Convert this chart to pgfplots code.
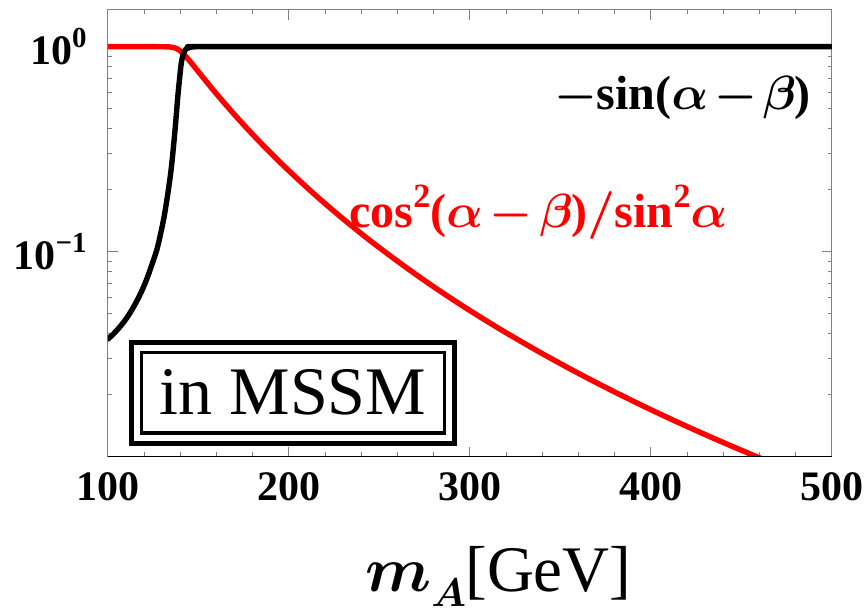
\documentclass[border=0pt]{standalone}
\usepackage{fontspec}
\setmainfont{Liberation Serif}
\usepackage{pgfplots}
\pgfplotsset{compat=1.18}
\definecolor{framegray}{rgb}{0.5,0.5,0.5}
\font\mibA=cmmib10 at 24pt
\font\bsyA=cmbsy10 at 24pt
\font\mibM=cmmib10 at 32pt
\font\mibS=cmmib10 at 20pt
\newcommand\balpha{{\mibA\char11}}
\newcommand\bbeta{{\mibA\char12}}
\newcommand\bminus{{\bsyA\char0}}
\newcommand\bslash{{\mibA\char61}}
\newcommand\sqr{\raisebox{0.42em}{\fontsize{17}{17}\selectfont\bfseries 2}}
\begin{document}
\begin{tikzpicture}
\begin{axis}[
  at={(0,0)}, anchor=south west,
  scale only axis, width=362pt, height=223.35pt,
  xmin=100, xmax=500, ymode=log, ymin=0.01, ymax=1.51,
  axis line style={framegray, line width=0.5pt},
  tick style={framegray, line width=0.5pt},
  tick align=inside, tick pos=both, ticklabel pos=left,
  major tick length=5pt, minor tick length=2.2pt,
  xtick={100,200,300,400,500}, minor x tick num=4,
  ytick={0.1,1},
  minor ytick={0.02,0.03,0.04,0.05,0.06,0.07,0.08,0.09,0.2,0.3,0.4,0.5,0.6,0.7,0.8,0.9},
  yticklabels={{\textbf{10}\raisebox{0.42em}{\fontsize{14.5}{15}\selectfont\textbf{−1}}},{\textbf{10}\raisebox{0.42em}{\fontsize{14.5}{15}\selectfont\textbf{0}}}},
  /pgf/number format/assume math mode=true,
  xticklabel style={font=\fontsize{21}{24}\selectfont\bfseries, inner sep=0pt, yshift=-7.5pt, text=black},
  yticklabel style={font=\fontsize{21}{24}\selectfont\bfseries, inner sep=0pt, xshift=-10.5pt, anchor=east, text=black},
  every axis plot/.append style={line join=round, line cap=round},
]
\addplot[red, line width=2.7pt, smooth, tension=0.5] coordinates {
(100,1.0) (115,1.0) (125,1.0) (130,0.999) (134,0.997) (136,0.992) (138,0.978)
(140,0.952) (142.5,0.905) (145,0.855) (150,0.754) (155,0.665) (160,0.5876)
(170,0.4648) (180,0.3724) (190,0.3022) (200,0.2478) (215,0.1873) (230,0.1443)
(245,0.1129) (260,0.0898) (275,0.0722) (290,0.0588) (305,0.0484) (320,0.0402)
(340,0.0318) (360,0.02548) (380,0.02067) (400,0.01694) (420,0.01403)
(440,0.01172) (458.4,0.0100) (470,0.00908)
};
\addplot[black, line width=2.7pt, smooth, tension=0.5] coordinates {
(100,0.0375) (103,0.0397) (106,0.0424) (109,0.0457) (112,0.0500) (115,0.0555)
(118,0.0625) (121,0.0719) (124,0.0851) (127,0.1023) (129,0.1216) (131,0.148)
(133,0.1905) (135,0.257) (137,0.389) (138.5,0.562) (139.5,0.692) (140.5,0.832)
(141.5,0.912) (143,0.973) (145,0.991) (148,0.998) (155,1.0) (300,1.0) (500,1.0)
};
\node[anchor=base east, inner sep=0pt] at (axis cs:488.4,0.491)
  {\fontsize{24}{28}\selectfont\bfseries \bminus\hspace{-0.5pt}sin(\balpha\hspace{3pt}\bminus\hspace{3pt}\bbeta)};
\node[anchor=base west, inner sep=0pt, text=red] at (axis cs:233.1,0.1305)
  {\fontsize{24}{28}\selectfont\bfseries cos\sqr(\balpha\hspace{3.5pt}\bminus\hspace{3.5pt}\bbeta)\bslash sin\sqr\balpha};
\node[draw=black, line width=1.65pt, inner sep=0pt, minimum width=151.3pt, minimum height=40.3pt, fill=white] (box) at (axis cs:202.2,0.0205)
  {\fontsize{34}{40}\selectfont in MSSM};
\draw[black, line width=2.5pt] ([shift={(-4.3pt,-4.3pt)}]box.south west) rectangle ([shift={(4.3pt,4.3pt)}]box.north east);
\end{axis}
\draw[black, line width=0.6pt] (0,0) -- (362pt,0);
\node[anchor=base west, inner sep=0pt] at (128.5pt,-67.65pt)
  {{\mibM m}\raisebox{-7.5pt}{\mibS A}};
\node[anchor=base west, inner sep=0pt] at (178.5pt,-67.65pt)
  {\fontsize{32.5}{38}\selectfont [GeV]};
\pgfresetboundingbox
\path (-54pt,-75.65pt) rectangle (378pt,228.35pt);
\end{tikzpicture}
\end{document}
